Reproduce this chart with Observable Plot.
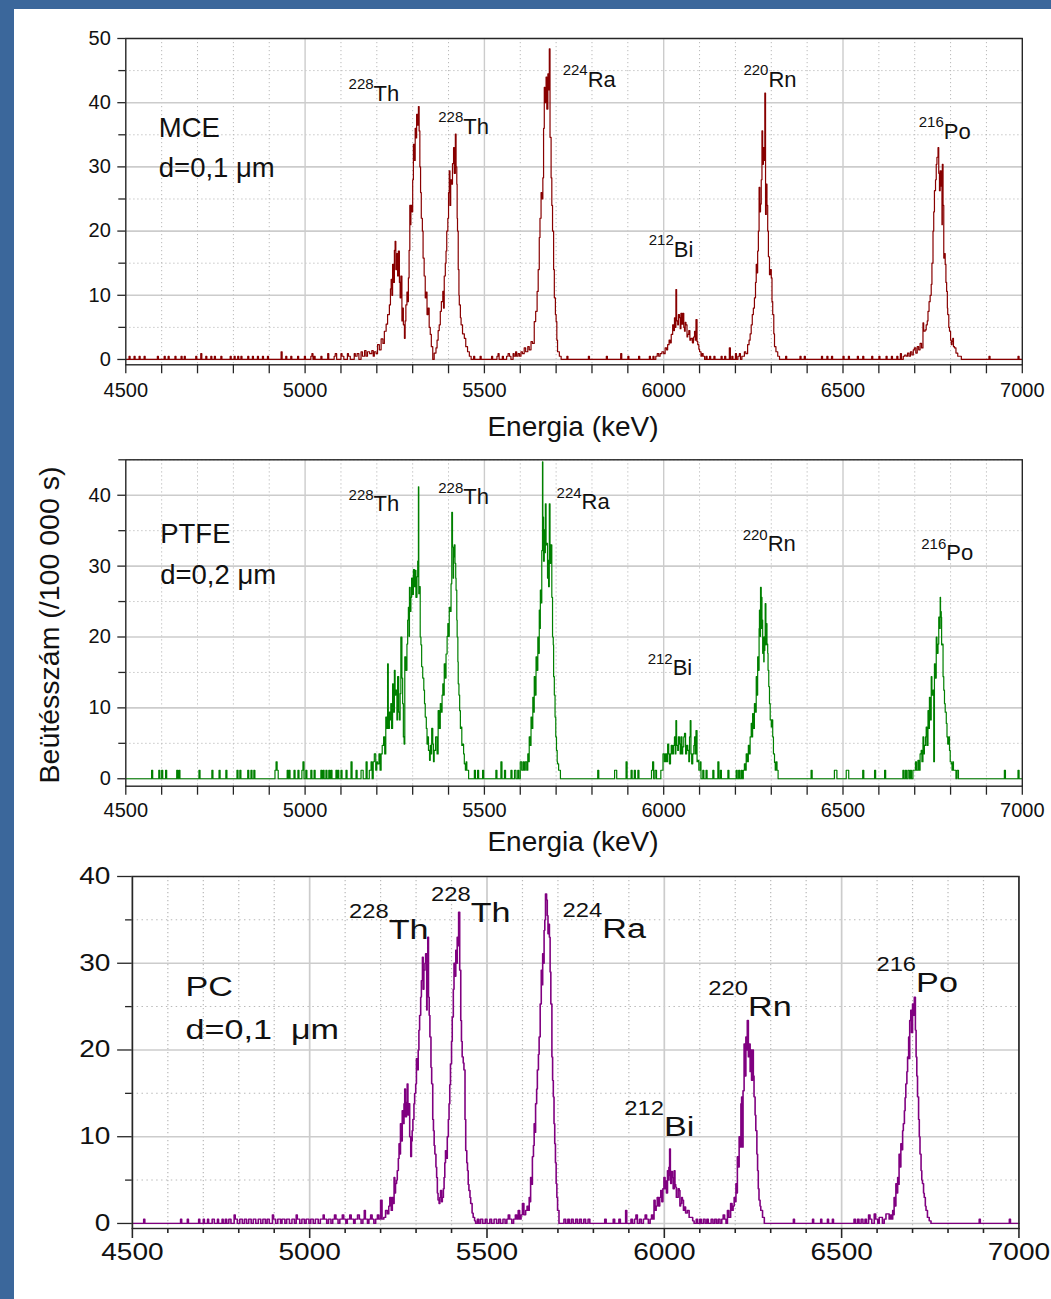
<!DOCTYPE html>
<html><head><meta charset="utf-8">
<script src="https://cdn.jsdelivr.net/npm/d3@7"></script>
<script src="https://cdn.jsdelivr.net/npm/@observablehq/plot@0.6"></script>
<style>
body{margin:0;background:#3b679b;}
#page{position:relative;width:1051px;height:1299px;overflow:hidden;}
#white{position:absolute;left:14px;top:9px;right:0;bottom:0;background:#fff;}
.panel{position:absolute;left:0;}
#overlay{position:absolute;left:0;top:0;pointer-events:none;}
</style></head><body><div id="page"><div id="white"></div></div>
<script>
// ---------- axis ticks ----------
const xMajorTicks = [4500, 5000, 5500, 6000, 6500, 7000];
const xMinorTicks = [4600, 4700, 4800, 4900, 5100, 5200, 5300, 5400, 5600, 5700, 5800, 5900, 6100, 6200, 6300, 6400, 6600, 6700, 6800, 6900];
const yMajorMCE = [0, 10, 20, 30, 40, 50];
const yMinorMCE = [5, 15, 25, 35, 45];
const yMajorPTFE = [0, 10, 20, 30, 40];
const yMinorPTFE = [5, 15, 25, 35, 45];
const yMajorPC = [0, 10, 20, 30, 40];
const yMinorPC = [5, 15, 25, 35];

// ---------- texts ----------
const sampleNames = ["MCE", "PTFE", "PC"];
const sampleThickness = ["d=0,1 μm", "d=0,2 μm", "d=0,1  μm"];
const nuclideMass = ["228", "228", "224", "212", "220", "216"];
const nuclideSymbol = ["Th", "Th", "Ra", "Bi", "Rn", "Po"];
const xAxisTitle = "Energia (keV)";
const yAxisTitle = "Beütésszám (/100 000 s)";

// label anchor positions (energy, counts) per panel
const mceLabelE = [5191, 5441, 5788, 6028, 6292, 6781];
const mceLabelV = [40.2, 35.2, 42.4, 15.9, 42.5, 34.4];
const ptfeLabelE = [5191, 5441, 5771, 6025, 6290, 6788];
const ptfeLabelV = [37.8, 38.7, 38.0, 14.6, 32.2, 30.8];
const pcLabelE = [5223, 5454, 5825, 5999, 6236, 6710];
const pcLabelV = [32.8, 34.7, 32.9, 10.1, 23.9, 26.7];
const sampleLabelE = [4592, 4596, 4650];
const sampleNameV = [34.6, 33.2, 26.2];
const sampleThickV = [28.4, 27.5, 21.3];

// ---------- spectra: [energy keV, counts / 100 000 s] ----------
const mceSpectrum = [
[4500,0],[4509,0.5],[4512,0],[4523,0.5],[4526,0],[4537,0.5],[4540,0],[4551,0.5],[4554,0],
[4588,0.5],[4591,0],[4607,0.5],[4610,0],[4618,0.5],[4621,0],[4637,0.5],[4640,0],[4654,0.5],[4657,0],[4663,0.5],[4666,0],
[4695,0.5],[4698,0],[4709,0.9],[4712,0],[4723,0.5],[4726,0],[4737,0.5],[4740,0],[4747,0.5],[4750,0],
[4765,0.5],[4768,0],[4791,0.5],[4794,0],[4802,0.5],[4805,0],[4812,0.5],[4815,0],[4821,0.5],[4824,0],
[4840,0.5],[4843,0],[4853,0.5],[4856,0],[4867,0.5],[4870,0],[4881,0.5],[4884,0],[4895,0.5],[4898,0],
[4933,1.2],[4936,0],[4946,0.5],[4949,0],[4960,0.5],[4963,0],[4979,0.5],[4982,0],[4998,0.5],[5001,0],
[5016,0.5],[5019,0.9],[5022,0],[5025,0.5],[5028,0],[5044,0.5],[5047,0],[5063,0.9],[5066,0],
[5081,0.5],[5084,0.9],[5088,0],[5100,0.9],[5103,0.5],[5108,0],[5118,0.9],[5121,0.5],[5126,0],[5137,0.9],[5140,0.5],[5145,0.9],[5150,0],
[5156,1.2],[5160,0.5],[5166,1.4],[5170,0.5],[5174,1.2],[5180,0.9],[5186,1.4],[5190,0.5],[5193,1.2],[5198,0.9],
[5202,2.3],[5207,1.5],[5212,3.2],[5217,2.5],[5221,4.4],[5226,5.5],[5230,7.0],[5235,8.5],[5238,11.0],[5240,12.5],[5242,10.0],[5244,14.8],[5247,12.0],[5249,17.0],[5251,18.4],[5253,14.0],[5256,16.5],[5258,13.0],[5260,16.9],[5263,12.0],[5265,9.6],[5267,13.0],[5270,6.0],[5272,8.0],[5274,5.4],[5277,3.3],[5279,6.0],[5281,8.5],[5284,10.5],[5286,9.0],[5288,12.7],[5290,17.0],[5292,24.0],[5294,21.0],[5295,24.0],[5298,23.0],[5300,28.0],[5302,33.5],[5305,31.0],[5307,36.0],[5309,34.5],[5311,38.2],[5314,36.5],[5316,39.4],[5318,35.6],[5320,30.0],[5322,26.0],[5324,22.0],[5327,20.0],[5329,15.8],[5332,13.0],[5335,9.6],[5338,10.5],[5340,7.0],[5343,8.0],[5346,5.0],[5349,3.9],[5352,2.0],
[5356,0],[5360,1.0],[5365,1.8],[5368,3.0],[5371,4.5],[5374,5.4],[5377,7.5],[5380,9.0],[5384,10.6],[5386,8.0],[5388,13.0],[5391,15.0],[5393,16.9],[5395,20.0],[5398,22.0],[5400,26.0],[5402,29.4],[5404,24.0],[5406,28.0],[5409,27.3],[5411,30.5],[5414,33.0],[5416,29.0],[5419,35.1],[5421,30.0],[5423,27.3],[5424,22.0],[5425,20.0],[5427,14.0],[5429,10.0],[5430,8.5],[5433,6.5],[5435,5.4],[5439,4.0],[5444,3.3],[5448,2.0],[5453,1.2],[5458,0.5],[5463,0],
[5470,0.5],[5473,0],[5488,0.5],[5491,0],[5520,0.5],[5523,0],[5535,0.5],[5538,0.9],[5541,0],[5550,0.5],[5553,0],[5562,0.5],[5566,0.9],[5570,0.5],[5574,0],[5580,0.9],[5583,0.5],[5587,1.2],[5590,0.5],[5594,0.9],[5598,0.5],
[5602,1.2],[5606,0.9],[5611,1.8],[5615,1.2],[5621,2.0],[5625,1.5],[5630,2.8],[5634,2.5],[5639,5.9],[5643,7.5],[5647,10.6],[5650,14.0],[5653,19.0],[5655,22.0],[5658,26.0],[5660,25.0],[5663,28.3],[5665,36.0],[5667,42.4],[5669,40.0],[5672,44.0],[5674,39.0],[5677,44.5],[5679,42.0],[5681,48.4],[5683,34.6],[5686,28.3],[5688,24.0],[5690,20.0],[5693,14.0],[5695,9.6],[5698,7.0],[5700,5.9],[5702,3.0],[5704,1.2],[5709,0.5],[5714,0],
[5730,0.5],[5733,0],[5790,0.5],[5793,0],[5840,0.5],[5843,0],[5880,0.9],[5883,0],[5900,0.5],[5903,0],[5930,0.5],[5933,0],[5960,0.5],[5963,0],[5970,0.5],[5973,0],[5978,0.5],[5982,0.9],[5986,0.5],[5990,0.9],
[5995,1.2],[6000,0.9],[6004,1.8],[6008,1.5],[6011,2.3],[6015,3.0],[6018,2.6],[6021,3.9],[6025,5.4],[6028,4.5],[6030,6.5],[6033,5.0],[6034,10.9],[6036,6.0],[6039,5.4],[6041,7.0],[6044,6.5],[6046,4.8],[6048,7.2],[6051,5.5],[6053,7.2],[6056,5.0],[6058,4.4],[6060,5.8],[6062,5.4],[6065,3.5],[6067,3.9],[6070,4.5],[6073,3.0],[6076,3.3],[6080,2.6],[6083,3.5],[6086,4.4],[6088,3.0],[6090,6.2],[6093,2.8],[6095,2.3],[6098,1.6],[6100,1.2],[6104,0.5],[6107,0.9],[6110,0.5],[6114,0],
[6118,0.5],[6121,0],[6128,0.5],[6131,0],[6140,0.5],[6143,0],[6160,0.5],[6163,0],[6170,0.5],[6173,0],[6183,1.8],[6186,0],[6190,0.5],[6193,0],[6200,0.9],[6203,0],[6207,0.5],[6211,0.9],[6214,0],[6218,0.5],
[6225,1.2],[6229,0.9],[6234,2.3],[6238,3.0],[6241,4.0],[6244,5.4],[6247,7.0],[6250,8.0],[6253,9.6],[6256,12.0],[6258,14.8],[6260,13.5],[6262,16.9],[6264,20.0],[6266,26.8],[6268,23.0],[6270,24.2],[6272,28.0],[6274,35.6],[6276,30.4],[6278,33.0],[6280,31.0],[6282,41.5],[6284,22.6],[6286,27.3],[6288,24.0],[6290,20.0],[6292,16.0],[6295,13.2],[6297,14.0],[6300,12.7],[6302,9.0],[6304,7.0],[6307,4.0],[6309,2.0],[6313,1.2],[6318,0.5],[6323,0],
[6340,0.5],[6343,0],[6380,0.5],[6383,0],[6392,0.5],[6395,0],[6440,0.5],[6443,0],[6455,0.5],[6458,0],[6468,0.5],[6471,0],[6500,0.5],[6503,0],[6515,0.5],[6518,0],[6540,0.5],[6543,0],[6555,0.5],[6558,0],[6580,0.5],[6583,0],[6600,0.5],[6603,0],[6620,0.5],[6623,0],[6635,0.5],[6638,0],[6650,0.5],[6653,0],[6660,0.9],[6663,0],[6668,0.5],
[6672,0.7],[6676,0.5],[6680,1.0],[6684,0.5],[6688,1.2],[6692,0.7],[6696,1.5],[6699,1.8],[6703,1.0],[6707,2.0],[6711,1.5],[6715,2.5],[6719,1.8],[6723,5.7],[6725,4.4],[6729,4.6],[6732,5.4],[6735,6.0],[6737,7.5],[6740,9.0],[6743,10.0],[6746,11.7],[6748,15.0],[6751,20.0],[6753,23.0],[6755,26.3],[6758,28.0],[6760,30.4],[6762,31.5],[6765,33.0],[6767,29.0],[6769,26.3],[6771,29.4],[6774,27.0],[6776,21.0],[6777,30.4],[6779,24.0],[6781,15.8],[6783,16.5],[6785,14.8],[6787,12.0],[6789,10.6],[6791,8.0],[6792,7.0],[6795,5.0],[6797,4.4],[6800,3.0],[6802,2.3],[6804,2.8],[6806,3.3],[6808,2.0],[6811,1.8],[6815,1.0],[6820,0.5],[6825,0.5],[6830,0],
[6907,0.5],[6910,0],[6988,0.5],[6991,0],[7000,0]
];

const ptfeSpectrum = [
[4500,0],[4572,1.2],[4575,0],[4592,1.2],[4595,0],[4600,1.2],[4603,0],[4611,1.2],[4614,0],[4642,1.2],[4645,0],[4648,1.2],[4651,0],
[4704,1.2],[4707,0],[4740,1.2],[4743,0],[4760,1.2],[4763,0],[4779,1.2],[4782,0],[4810,1.2],[4813,0],[4818,1.2],[4821,0],[4840,1.2],[4843,0],[4849,1.2],[4852,0],[4857,1.2],[4860,0],
[4916,1.2],[4919,2.4],[4922,1.2],[4925,0],[4950,1.2],[4953,0],[4955,1.2],[4958,0],[4969,1.2],[4972,0],[4980,1.2],[4983,0],[4991,1.2],[4994,2.4],[4997,0],
[5002,1.2],[5005,0],[5016,1.2],[5019,0],[5025,1.2],[5028,0],[5044,1.2],[5047,0],[5050,1.2],[5053,0],[5058,1.2],[5061,0],[5066,1.2],[5069,0],[5072,1.2],[5075,0],[5086,1.2],[5089,0],
[5091,1.2],[5094,0],[5100,1.2],[5103,0],[5114,1.2],[5117,0],[5128,2.4],[5131,0],[5142,1.2],[5145,0],[5156,1.2],[5159,1.2],[5162,0],[5170,2.4],[5173,0],[5179,1.2],[5184,2.4],[5187,0],
[5190,2.4],[5193,3.5],[5197,1.2],[5200,2.4],[5202,2.1],[5206,3.5],[5209,1.2],[5212,3.5],[5215,4.7],[5219,5.9],[5222,3.5],[5225,8.7],[5228,7.1],[5230,16.2],[5232,7.1],[5235,9.4],[5237,8.3],[5239,10.6],[5241,7.1],[5244,13.4],[5246,9.4],[5249,15.3],[5251,11.8],[5253,12.5],[5256,8.3],[5258,14.4],[5261,9.4],[5263,8.3],[5265,12.0],[5267,20.0],[5270,14.2],[5272,10.6],[5274,5.9],[5276,4.9],[5278,17.2],[5281,15.3],[5284,19.0],[5286,22.4],[5288,24.2],[5290,20.1],[5291,27.0],[5293,23.6],[5295,25.6],[5297,28.3],[5300,26.0],[5302,29.5],[5305,27.1],[5307,29.4],[5309,25.6],[5312,28.5],[5314,30.7],[5316,41.2],[5317,26.1],[5319,27.1],[5321,20.0],[5323,18.9],[5325,15.8],[5328,14.2],[5331,12.5],[5333,10.6],[5335,8.7],[5338,7.1],[5340,4.9],[5342,5.9],[5344,4.0],[5347,2.6],[5349,4.7],[5351,3.5],[5353,7.1],[5356,4.9],[5358,2.4],[5360,4.0],[5364,5.9],[5368,3.5],
[5371,9.6],[5374,7.1],[5377,10.6],[5379,9.4],[5382,11.8],[5384,13.4],[5386,11.8],[5388,16.2],[5391,14.2],[5393,17.6],[5396,20.1],[5398,21.9],[5400,20.1],[5402,24.2],[5405,23.6],[5407,27.5],[5409,37.6],[5411,32.7],[5413,28.3],[5414,31.3],[5416,33.0],[5418,30.4],[5420,28.3],[5421,26.6],[5423,22.4],[5424,20.0],[5426,16.5],[5427,13.4],[5429,11.8],[5431,9.6],[5433,7.1],[5435,7.3],[5437,4.7],[5439,4.9],[5442,3.5],[5444,2.1],[5447,1.2],[5449,2.4],[5451,1.2],[5453,1.2],[5456,0],
[5472,1.2],[5475,0],[5481,1.2],[5484,0],[5495,1.2],[5498,0],[5532,1.2],[5535,0],[5546,2.4],[5549,0],[5556,1.2],[5559,0],[5574,1.2],[5577,0],[5584,1.2],[5588,0],[5593,1.2],[5596,0],
[5600,2.4],[5604,1.2],[5608,2.4],[5611,1.2],[5614,2.4],[5618,1.2],[5621,3.5],[5623,2.4],[5625,5.9],[5628,4.7],[5630,8.7],[5632,7.1],[5635,11.5],[5637,9.4],[5639,14.4],[5641,11.8],[5644,17.2],[5646,15.3],[5649,20.0],[5651,17.7],[5653,23.8],[5655,21.2],[5656,26.6],[5658,24.8],[5660,32.2],[5662,44.7],[5663,36.9],[5665,30.7],[5667,35.1],[5669,31.9],[5670,38.8],[5672,33.0],[5674,33.2],[5676,28.3],[5677,30.8],[5679,27.1],[5681,38.8],[5683,30.4],[5685,33.0],[5688,25.6],[5690,20.0],[5692,18.9],[5693,14.4],[5695,11.8],[5697,8.7],[5699,5.9],[5701,4.0],[5703,2.4],[5704,2.1],[5707,1.2],[5709,1.2],[5712,0],
[5816,1.2],[5819,0],[5863,1.2],[5869,0],[5895,2.4],[5898,0],[5909,1.2],[5912,0],[5918,1.2],[5921,0],[5928,1.2],[5931,0],[5966,1.2],[5969,2.4],[5972,0],[5976,1.2],[5980,0],[5992,1.2],
[5998,3.5],[6002,2.4],[6005,3.5],[6008,2.4],[6011,4.9],[6014,3.5],[6016,2.1],[6019,3.5],[6021,4.7],[6024,3.5],[6027,4.7],[6030,5.9],[6032,3.5],[6034,8.2],[6036,4.7],[6039,4.0],[6041,5.9],[6044,4.9],[6046,3.5],[6048,5.9],[6051,3.5],[6053,4.5],[6056,5.9],[6058,6.4],[6061,3.5],[6064,4.7],[6067,4.0],[6070,2.4],[6072,5.9],[6074,8.2],[6076,3.5],[6078,2.1],[6081,3.5],[6084,4.7],[6086,5.9],[6088,3.5],[6090,6.8],[6093,2.4],[6095,2.6],[6098,1.2],[6100,1.2],[6102,2.4],[6104,0],
[6109,1.2],[6112,0],[6118,1.2],[6121,0],[6137,1.2],[6140,0],[6151,2.4],[6154,0],[6158,1.2],[6161,0],[6179,1.2],[6182,0],[6202,1.2],[6205,0],[6209,1.2],
[6212,0],[6216,1.2],[6219,0],[6222,1.2],[6225,2.1],[6228,1.2],[6230,3.5],[6233,2.4],[6236,4.7],[6239,3.5],[6241,5.9],[6244,7.8],[6246,5.9],[6248,9.2],[6250,7.1],[6253,10.6],[6255,9.4],[6258,14.4],[6260,11.8],[6262,17.2],[6264,15.3],[6266,21.2],[6267,23.8],[6269,20.1],[6270,27.0],[6272,21.2],[6273,25.6],[6274,22.4],[6276,17.7],[6277,20.0],[6279,16.5],[6280,18.1],[6282,20.1],[6283,24.7],[6285,18.9],[6286,21.9],[6288,19.0],[6290,17.7],[6291,15.3],[6293,13.0],[6295,10.6],[6297,8.3],[6300,7.3],[6302,8.3],[6304,5.9],[6306,3.5],[6309,2.3],[6311,1.2],[6313,2.4],[6316,1.2],[6319,0],
[6411,1.2],[6414,0],[6476,1.2],[6479,1.2],[6483,0],[6509,1.2],[6512,1.2],[6516,0],[6555,1.2],[6558,0],[6588,1.2],[6591,0],[6616,1.2],[6619,0],[6667,1.2],[6670,0],[6674,1.2],[6677,0],[6681,1.2],[6685,0],[6688,1.2],[6691,0],[6695,1.2],
[6698,1.2],[6702,2.4],[6705,1.2],[6709,2.6],[6712,1.2],[6715,3.5],[6718,4.0],[6720,2.4],[6723,5.9],[6725,3.5],[6727,4.7],[6730,5.9],[6732,7.3],[6734,4.7],[6737,9.6],[6739,7.1],[6741,11.5],[6743,8.3],[6746,14.4],[6748,11.8],[6751,12.5],[6753,2.4],[6755,16.2],[6757,14.2],[6760,20.0],[6762,17.7],[6765,19.0],[6767,22.8],[6769,21.2],[6771,25.6],[6772,23.6],[6774,22.8],[6775,18.9],[6777,19.0],[6779,14.4],[6781,12.5],[6783,10.6],[6785,9.4],[6788,7.8],[6790,5.9],[6792,4.9],[6795,5.9],[6797,4.0],[6799,2.4],[6802,2.1],[6804,1.2],[6806,2.4],[6808,1.2],[6811,1.2],[6815,0],[6818,1.2],[6822,0],
[6950,1.2],[6953,0],[6988,1.2],[6991,0],[7000,0]
];

const pcSpectrum = [
[4500,0],[4532,0.5],[4535,0],[4636,0.5],[4639,0],[4655,0.5],[4658,0],[4687,0.5],[4690,0],[4700,0.5],[4703,0],[4712,0.5],[4715,0],[4725,0.5],[4728,0.5],[4731,0],[4740,0.5],[4743,0],[4753,0.5],[4756,0],[4762,0.5],[4766,0],[4772,0.5],[4778,0],
[4787,1.0],[4790,0.5],[4796,0],[4803,0.5],[4810,0],[4816,0.5],[4822,0],[4828,0.5],[4835,0],[4841,0.5],[4848,0],[4855,0.5],[4862,0],[4868,0.5],[4875,0],[4880,0.5],[4886,0],[4895,1.0],[4898,0.5],[4904,0],[4910,0.5],[4918,0],[4922,0.5],[4930,0],[4935,0.5],[4943,0],[4950,0.5],[4957,0],[4962,1.0],[4965,0.5],[4972,0],[4978,0.5],[4985,0],[4990,0.5],[4998,0],
[5003,0.5],[5010,0],[5016,0.5],[5024,0],[5030,0.5],[5038,1.0],[5041,0.5],[5048,0],[5053,0.5],[5060,0],[5065,0.5],[5070,1.0],[5074,0.5],[5080,0],[5085,0.5],[5092,1.0],[5096,0.5],[5102,0],[5106,0.5],[5113,1.0],[5117,0.5],[5124,0],[5128,0.5],[5135,1.0],[5140,0.5],[5145,0],[5150,0.5],[5154,1.5],[5157,0.5],[5163,0],[5167,0.5],[5172,1.0],[5176,0.5],[5181,0],[5186,0.5],[5191,1.0],[5195,0.5],
[5200,2.7],[5204,0.5],[5209,0.7],[5214,1.5],[5219,1.1],[5223,2.0],[5226,3.0],[5230,1.5],[5233,3.0],[5236,2.3],[5238,5.3],[5240,3.5],[5242,4.6],[5245,5.0],[5247,6.1],[5250,7.5],[5252,9.2],[5254,8.0],[5256,11.5],[5258,9.5],[5261,13.0],[5263,11.5],[5266,13.8],[5268,15.5],[5270,12.3],[5273,14.0],[5275,16.1],[5277,12.5],[5280,13.8],[5282,10.0],[5285,7.7],[5287,9.5],[5289,10.7],[5291,12.0],[5294,13.8],[5296,15.0],[5299,16.1],[5301,19.0],[5303,17.7],[5306,20.0],[5308,22.3],[5310,24.0],[5313,26.1],[5315,28.0],[5318,30.7],[5320,27.0],[5322,29.2],[5325,30.0],[5327,31.1],[5330,24.6],[5331,29.0],[5333,33.0],[5335,26.1],[5337,24.0],[5339,21.5],[5342,18.0],[5344,16.1],[5347,12.0],[5349,10.7],[5351,9.0],[5353,8.0],[5356,6.5],[5358,5.3],[5360,3.5],[5362,2.7],[5365,2.3],[5367,3.0],[5369,3.8],[5372,2.5],[5374,3.0],[5377,4.0],[5379,5.3],[5381,7.0],[5383,8.4],[5386,7.5],[5388,10.0],[5391,12.0],[5393,13.8],[5395,16.0],[5397,18.4],[5400,21.0],[5402,23.8],[5405,27.0],[5407,30.0],[5409,28.5],[5412,31.5],[5414,30.0],[5416,33.0],[5418,32.0],[5420,35.9],[5423,29.2],[5426,23.4],[5428,21.0],[5430,19.2],[5433,18.5],[5435,17.7],[5438,12.0],[5440,8.4],[5443,7.0],[5445,6.1],[5447,4.5],[5449,3.8],[5452,3.0],[5454,2.3],[5458,1.2],[5461,0.7],[5465,0.3],[5468,0],
[5473,0.5],[5477,0],[5482,0.5],[5488,0],[5495,0.5],[5500,0],[5508,0.5],[5513,0],[5520,0.5],[5527,0],[5533,0.5],[5538,0],[5545,0.5],[5551,0],[5556,0.5],[5560,1.0],[5564,0.5],[5570,0],[5575,0.5],[5580,1.0],[5584,0.5],[5588,1.5],[5592,0.5],[5596,1.0],
[5600,2.3],[5604,1.0],[5609,1.5],[5613,2.0],[5616,1.5],[5619,3.0],[5621,2.5],[5623,5.3],[5626,4.5],[5628,7.7],[5631,9.0],[5633,11.5],[5635,10.5],[5637,13.8],[5640,15.5],[5642,17.7],[5645,19.5],[5647,21.5],[5650,25.3],[5653,29.2],[5655,27.5],[5657,31.1],[5659,30.0],[5661,33.8],[5663,35.0],[5665,38.0],[5668,37.3],[5670,35.5],[5672,33.4],[5674,34.5],[5676,33.0],[5678,29.0],[5680,25.3],[5683,19.2],[5685,16.5],[5687,14.6],[5689,11.5],[5691,9.2],[5693,7.0],[5695,4.6],[5697,3.0],[5699,1.5],[5703,0],
[5717,0.5],[5722,0],[5728,0.5],[5732,0],[5738,0.5],[5743,0],[5750,0.5],[5755,0],[5761,0.5],[5766,0],[5773,0.5],[5778,0],[5785,0.5],[5790,0],[5832,0.5],[5836,0],[5856,0.5],[5860,0],[5872,0.5],[5876,0],[5891,1.5],[5894,0],
[5906,0.5],[5910,0],[5916,0.5],[5920,1.0],[5924,0],[5930,0.5],[5935,0],[5941,0.5],[5946,1.0],[5950,0.5],[5955,0],[5960,0.5],[5964,1.0],[5968,0.5],
[5971,2.7],[5974,1.5],[5977,2.0],[5980,3.0],[5984,2.0],[5987,3.0],[5990,3.8],[5993,2.5],[5996,4.0],[5999,5.3],[6002,4.0],[6004,4.9],[6006,3.5],[6009,6.1],[6011,5.0],[6013,6.5],[6015,8.6],[6017,5.5],[6018,4.6],[6020,6.0],[6023,5.3],[6025,4.0],[6028,6.1],[6030,4.5],[6032,4.2],[6034,3.0],[6037,3.0],[6039,4.0],[6042,3.8],[6044,2.0],[6046,2.3],[6049,3.0],[6051,2.7],[6054,1.5],[6056,1.9],[6060,1.2],[6065,1.5],[6070,0.7],[6075,0.7],[6080,0.3],[6084,0],
[6090,0.5],[6094,0],[6100,0.5],[6104,0],[6110,0.5],[6115,0],[6120,0.5],[6124,0],[6132,0.5],[6137,0],[6142,0.5],[6147,0],[6152,0.5],[6157,0],[6162,0.5],[6166,1.0],[6170,0.5],[6174,0],
[6178,1.5],[6182,0.7],[6187,2.3],[6191,1.5],[6194,2.0],[6197,3.0],[6200,2.5],[6202,4.6],[6204,3.5],[6206,7.7],[6208,6.5],[6211,10.0],[6213,8.8],[6216,13.8],[6218,14.6],[6220,8.8],[6222,15.3],[6225,20.7],[6227,17.0],[6230,21.5],[6232,20.0],[6234,23.4],[6237,19.2],[6240,20.7],[6242,17.5],[6244,20.0],[6246,16.5],[6249,20.0],[6251,17.0],[6253,14.6],[6256,12.5],[6258,10.7],[6261,8.0],[6263,6.1],[6265,4.0],[6267,2.7],[6270,2.0],[6272,1.5],[6277,0.7],[6282,0],
[6364,0.5],[6367,0],[6418,0.5],[6421,0],[6441,0.5],[6444,0],[6460,0.5],[6463,0],[6474,0.5],[6477,0],[6535,0.5],[6539,0],[6545,0.5],[6549,0],[6555,0.5],[6560,0],[6566,0.5],[6570,0],[6576,1.0],[6580,0.5],[6585,0],
[6592,1.1],[6596,0.5],[6602,0],[6606,0.7],[6611,0.7],[6615,0],[6620,0.5],[6625,1.1],[6630,1.1],[6634,0.5],[6638,1.0],[6641,0.5],[6644,1.5],[6646,1.0],[6648,3.0],[6650,2.0],[6653,4.6],[6655,3.5],[6658,5.3],[6660,4.5],[6662,8.0],[6665,6.5],[6667,9.2],[6669,8.5],[6672,10.7],[6674,11.5],[6677,13.0],[6679,14.5],[6681,16.1],[6684,17.5],[6686,19.2],[6689,21.5],[6690,19.0],[6692,23.4],[6695,24.6],[6697,22.0],[6700,25.3],[6702,24.0],[6705,26.1],[6708,22.3],[6710,19.2],[6712,17.0],[6714,14.6],[6717,12.0],[6719,10.0],[6721,8.0],[6724,6.1],[6726,5.0],[6728,4.6],[6731,3.5],[6733,3.0],[6736,2.0],[6738,1.5],[6742,0.7],[6747,0.3],[6752,0],
[6888,0.5],[6891,0],[6973,0.5],[6976,0],[7000,0]
];

// ---------- rendering ----------
const page = document.getElementById("page");
const FONT = "'Liberation Sans', Arial, Helvetica, sans-serif";
const AX = "#262626";

function spectrumPanel(o) {
  const idx = d3.range(nuclideMass.length);
  const data = o.data.slice().sort((a, b) => a[0] - b[0]);
  return Plot.plot({
    width: o.width, height: o.height,
    marginLeft: o.ml, marginRight: o.mr, marginTop: o.mt, marginBottom: o.mb,
    x: {domain: [4500, 7000]},
    y: {domain: o.yDomain},
    style: {fontFamily: FONT, fontSize: o.tickFont + "px", background: "transparent", overflow: "visible", color: "#111"},
    marks: [
      Plot.gridX(xMinorTicks, {stroke: "#b9b9b9", strokeOpacity: 1, strokeWidth: 1, strokeDasharray: "1.2,2.8"}),
      Plot.gridY(o.yMinor, {stroke: "#b9b9b9", strokeOpacity: 1, strokeWidth: 1, strokeDasharray: "1.2,2.8"}),
      Plot.gridX(xMajorTicks.slice(1, -1), {stroke: "#cccccc", strokeOpacity: 1, strokeWidth: 1.4}),
      Plot.gridY(o.yMajor, {stroke: "#cccccc", strokeOpacity: 1, strokeWidth: 1.6}),
      Plot.line(data, {x: d => d[0], y: d => d[1], stroke: o.color, strokeWidth: o.lineWidth, curve: "step-after"}),
      Plot.frame({stroke: AX, strokeWidth: 1.4}),
      Plot.axisX(xMajorTicks, {tickSize: o.xTick, tickPadding: o.xPad, tickFormat: d => String(d), stroke: AX, strokeWidth: 1.3, fill: "#111", label: null}),
      Plot.axisX(xMinorTicks, {tickSize: o.xTickMinor, stroke: AX, strokeWidth: 1.3, fill: "none", label: null}),
      Plot.axisY(o.yMajor, {tickSize: o.yTick, tickPadding: o.yPad, tickFormat: d => String(d), stroke: AX, strokeWidth: 1.3, fill: "#111", label: null}),
      Plot.axisY(o.yMinor, {tickSize: o.yTickMinor, stroke: AX, strokeWidth: 1.3, fill: "none", label: null}),
      Plot.text(idx, {x: i => o.labelE[i], y: i => o.labelV[i], text: i => nuclideMass[i], textAnchor: "end", lineAnchor: "bottom", dy: -o.supRaise, fontSize: o.supFont, fill: "#111"}),
      Plot.text(idx, {x: i => o.labelE[i], y: i => o.labelV[i], text: i => nuclideSymbol[i], textAnchor: "start", lineAnchor: "bottom", fontSize: o.symFont, fill: "#111"}),
      Plot.text([0], {x: () => sampleLabelE[o.k], y: () => sampleNameV[o.k], text: () => sampleNames[o.k], textAnchor: "start", lineAnchor: "bottom", fontSize: o.sampleFont, fill: "#111"}),
      Plot.text([0], {x: () => sampleLabelE[o.k], y: () => sampleThickV[o.k], text: () => sampleThickness[o.k], textAnchor: "start", lineAnchor: "bottom", fontSize: o.sampleFont, fill: "#111"})
    ]
  });
}

const p1 = spectrumPanel({k: 0, data: mceSpectrum, color: "#880000", lineWidth: 1.2,
  width: 1051, height: 400, ml: 125.3, mr: 29.2, mt: 38, mb: 35.7, yDomain: [-0.83, 50],
  yMajor: yMajorMCE, yMinor: yMinorMCE, labelE: mceLabelE, labelV: mceLabelV,
  tickFont: 20, xTick: 9, xTickMinor: 9, xPad: 9, yTick: 8, yTickMinor: 7, yPad: 7,
  supFont: 15, supRaise: 12, symFont: 22, sampleFont: 27.5});
p1.classList.add("panel"); p1.style.top = "0px";
page.appendChild(p1);

const p2 = spectrumPanel({k: 1, data: ptfeSpectrum, color: "#008000", lineWidth: 1.2,
  width: 1051, height: 400, ml: 125.3, mr: 29.2, mt: 39.3, mb: 34.3, yDomain: [-1.05, 45],
  yMajor: yMajorPTFE, yMinor: yMinorPTFE, labelE: ptfeLabelE, labelV: ptfeLabelV,
  tickFont: 20, xTick: 9, xTickMinor: 9, xPad: 8, yTick: 8, yTickMinor: 7, yPad: 7,
  supFont: 15, supRaise: 11, symFont: 22, sampleFont: 27.5});
p2.classList.add("panel"); p2.style.top = "420px";
page.appendChild(p2);

const SX = 1.22;
const p3 = spectrumPanel({k: 2, data: pcSpectrum, color: "#800080", lineWidth: 1.3,
  width: 862, height: 420, ml: 108, mr: 27.3, mt: 36, mb: 32, yDomain: [-0.58, 40],
  yMajor: yMajorPC, yMinor: yMinorPC, labelE: pcLabelE, labelV: pcLabelV,
  tickFont: 23, xTick: 10, xTickMinor: 5, xPad: 5, yTick: 12, yTickMinor: 5.5, yPad: 6,
  supFont: 19.5, supRaise: 21, symFont: 28, sampleFont: 28});
p3.classList.add("panel"); p3.style.top = "840px";
p3.style.transformOrigin = "0 0"; p3.style.transform = `scaleX(${SX})`;
page.appendChild(p3);

// axis titles
const ov = d3.create("svg").attr("id", "overlay").attr("width", 1051).attr("height", 1299)
  .style("font-family", FONT).attr("fill", "#111");
ov.append("text").attr("transform", "translate(59,625) rotate(-90)").attr("text-anchor", "middle")
  .attr("font-size", 28.5).text(yAxisTitle);
ov.append("text").attr("x", 573).attr("y", 436).attr("text-anchor", "middle").attr("font-size", 28).text(xAxisTitle);
ov.append("text").attr("x", 573).attr("y", 851).attr("text-anchor", "middle").attr("font-size", 28).text(xAxisTitle);
page.appendChild(ov.node());
</script>
</body></html>
